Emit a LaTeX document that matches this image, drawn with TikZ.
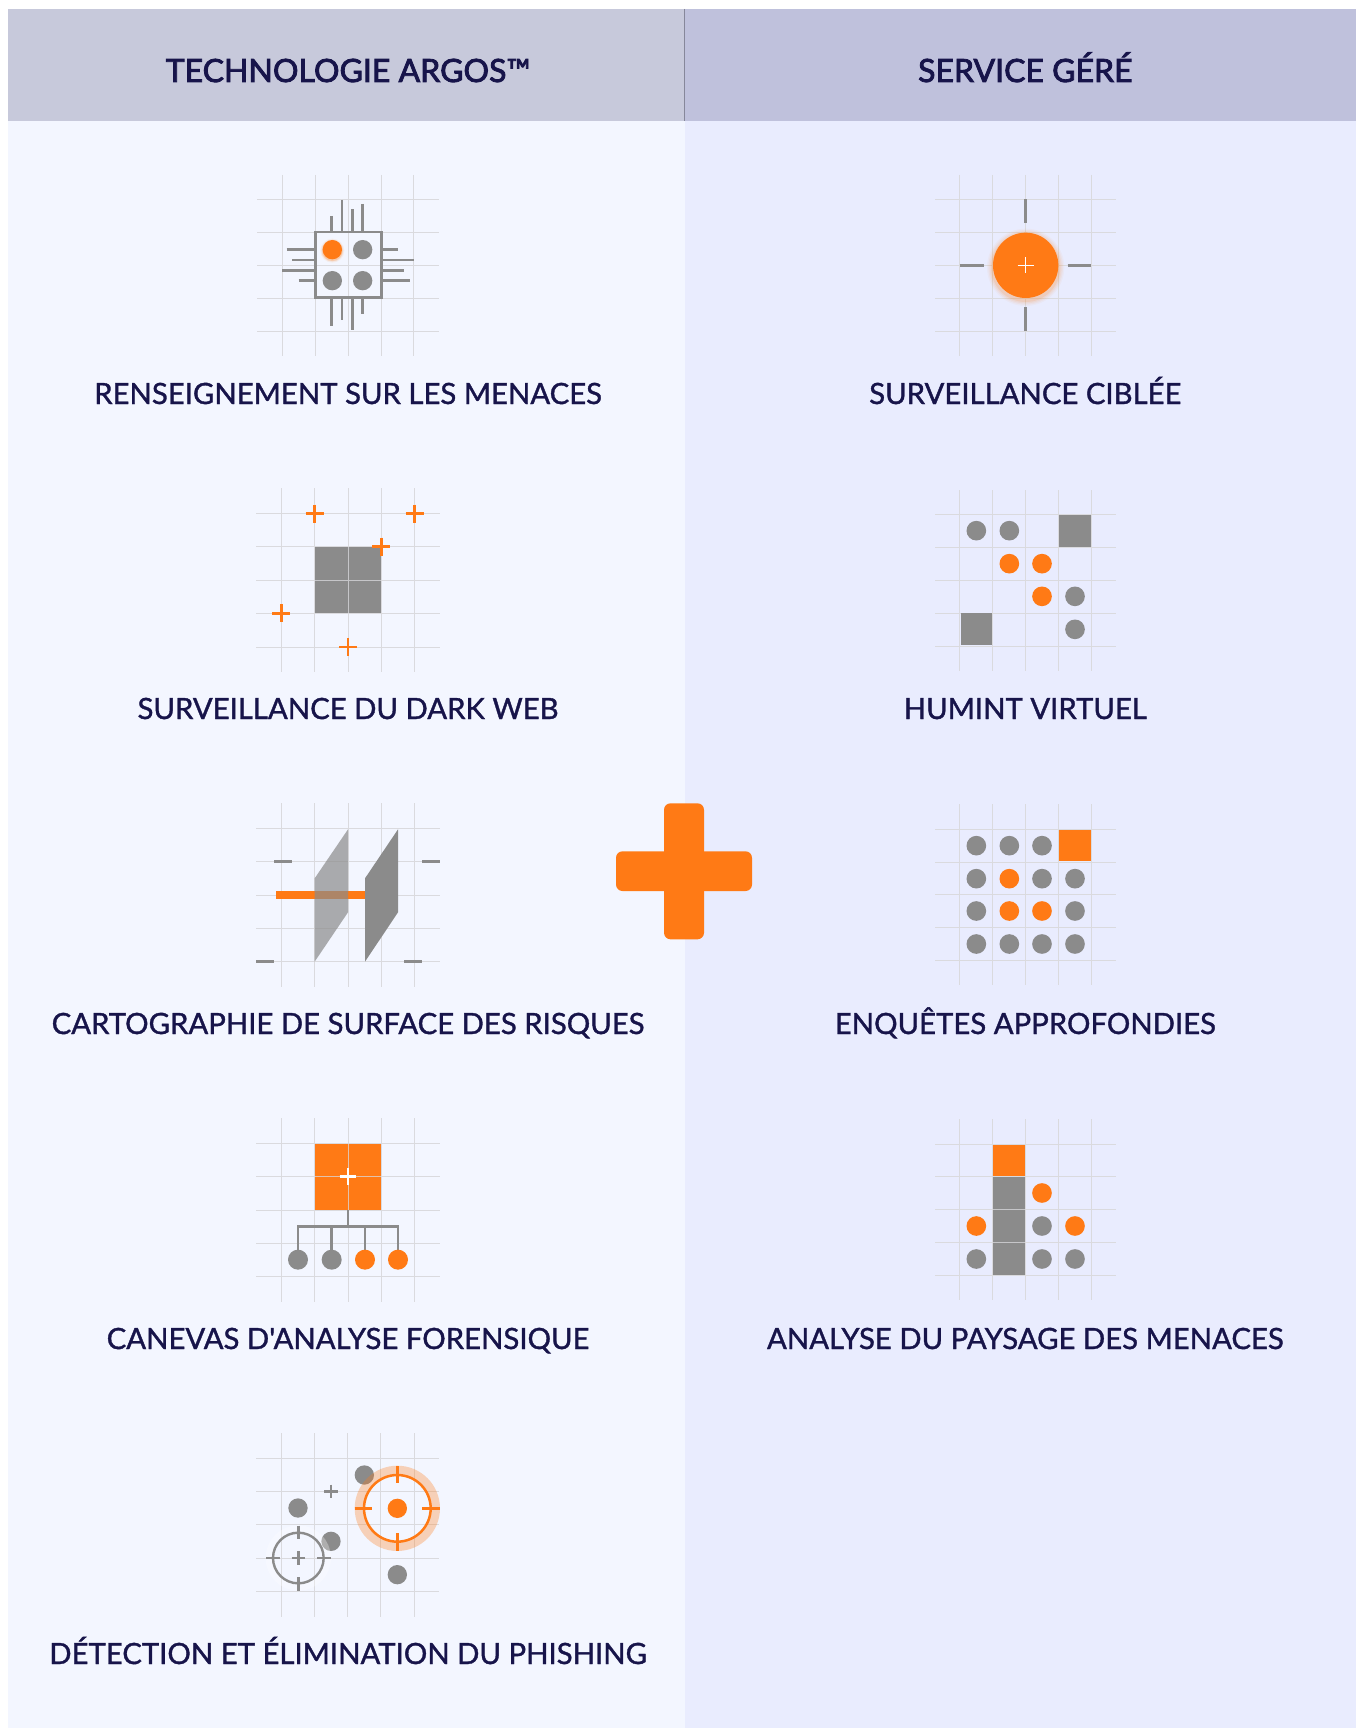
\documentclass[tikz,border=0pt]{standalone}
\usepackage{fontspec}
\setmainfont{Lato}
\newfontfamily\lblfont[FakeBold=1.2]{Lato}
\newfontfamily\hdrfont[FakeBold=2.6]{Lato}
\definecolor{bgL}{HTML}{F3F6FF}
\definecolor{bgR}{HTML}{E9ECFE}
\definecolor{hdL}{HTML}{C7C9DB}
\definecolor{hdR}{HTML}{BFC1DC}
\definecolor{ink}{HTML}{17144A}
\definecolor{org}{HTML}{FF7A15}
\definecolor{gry}{HTML}{8B8B8B}
\definecolor{grd}{HTML}{DADADE}
\tikzset{
 zm/.style 2 args={shift={(#1,#2)},x=0.33333pt,y=-0.33333pt},
 gridline/.style={draw=grd,line width=0.95pt},
 over/.style={draw=grd,opacity=.75,line width=.95pt},
 pin/.style={draw=gry,line width=2.6pt},
 opin/.style={draw=org,line width=2.6pt},
 gd/.style={fill=gry},
 od/.style={fill=org},
 lbl/.style={text=ink,font=\fontsize{29.3}{32}\selectfont\lblfont,anchor=base},
 hdr/.style={text=ink,font=\fontsize{32}{34}\selectfont\hdrfont,anchor=base},
}
\newcommand{\gridz}[6]{%
 \foreach \gx in {#1} {\draw[gridline] (\gx,#5) -- (\gx,#6);}
 \foreach \gy in {#2} {\draw[gridline] (#3,\gy) -- (#4,\gy);}
}
\newcommand{\ptset}[3]{\foreach \px/\py in {#2} {\fill[#1] (\px,\py) circle (#3);}}
\newcommand{\pluss}[5]{\draw[draw=#1,line width=#5] (#2-#4,#3) -- (#2+#4,#3) (#2,#3-#4) -- (#2,#3+#4);}
\begin{document}
\begin{tikzpicture}[x=1pt,y=-1pt]
\useasboundingbox (0,0) rectangle (1356,1728);
\fill[white] (0,0) rectangle (1356,1728);
% panels
\fill[bgL] (8,121) rectangle (684.5,1728);
\fill[bgR] (684.5,121) rectangle (1356,1728);
\fill[hdL] (8,9) rectangle (684.5,121);
\fill[hdR] (684.5,9) rectangle (1356,121);
\draw[draw=hdR!70!black,line width=.8pt] (684.8,9) -- (684.8,121);
\node[hdr] (h1) at (348,82) {TECHNOLOGIE ARGOS™};
\node[hdr] (h2) at (1025.3,82) {SERVICE GÉRÉ};

% --- chip
\begin{scope}[zm={240}{160}]
\gridz{127,226,324,423,521}{118,217,316,414,513}{52}{597}{45}{587}
\foreach \gx/\ga/\gb in {274/168/215,306/120/215,337/148/215,368/132/215,274/415/497,306/415/481,337/415/510,368/415/462}
 {\draw[pin] (\gx,\ga) -- (\gx,\gb);}
\foreach \gy/\ga/\gb in {269/140/226,300/156/226,331/127/226,362/176/226,269/424/473,300/424/522,331/424/492,362/424/510}
 {\draw[pin] (\ga,\gy) -- (\gb,\gy);}
\draw[pin] (226,216) rectangle (424,413);
\foreach \rr/\oo in {36/.08,33/.12,31/.2}{\fill[org,opacity=\oo] (277,272) circle (\rr);}
\fill[od] (277,269) circle (29);
\ptset{gd}{368/269,277/362,368/362}{29}
\end{scope}

% --- dark web
\begin{scope}[zm={240}{475}]
\gridz{124,224,324,424,524}{115,215,316,415,516}{48}{600}{40}{590}
\fill[gry] (226,216) rectangle (424,415);
\draw[over] (324,216) -- (324,415) (226,316) -- (424,316);
\foreach \px/\py in {224/116,524/116,424/215,124/415,324/516}{\pluss{org}{\px}{\py}{27}{2.8pt}}
\end{scope}

% --- surface
\begin{scope}[zm={240}{790}]
\gridz{124,224,324,424,524}{115,214,315,415,515}{48}{600}{40}{590}
\fill[org] (108,304) rectangle (375,328);
\fill[gry,opacity=.7] (224,265) -- (324,118) -- (324,367) -- (224,515) -- cycle;
\fill[gry] (375,265) -- (474,118) -- (474,367) -- (375,515) -- cycle;
\draw[pin] (102,214) -- (156,214) (547,214) -- (600,214) (48,514) -- (102,514) (493,514) -- (547,514);
\end{scope}

% --- forensic
\begin{scope}[zm={240}{1105}]
\gridz{124,224,324,424,523}{115,214,315,415,515}{48}{600}{40}{590}
\fill[org] (226,116) rectangle (424,314);
\draw[over] (324,116) -- (324,314) (226,214) -- (424,214);
\pluss{white}{324}{214}{25}{2.8pt}
\draw[pin] (324,315) -- (324,365) (174,464) -- (174,365) -- (474,365) -- (474,464) (275,365) -- (275,464) (375,365) -- (375,464);
\ptset{gd}{174/464,275/464}{30}
\ptset{od}{375/464,474/464}{30}
\end{scope}

% --- phishing
\begin{scope}[zm={240}{1420}]
\gridz{124,223,322,422,522}{115,214,314,414,514}{48}{597}{40}{590}
\ptset{gd}{373/165,174/264,273/364,472/464}{29}
\pluss{gry}{273}{214}{20}{2.6pt}
\draw[draw=white,opacity=.3,line width=7.3pt] (175,414) circle (87);
\draw[pin,line width=2.4pt] (175,414) circle (76);
\draw[pin] (175,317) -- (175,356) (175,472) -- (175,512) (78,414) -- (119,414) (232,414) -- (273,414);
\pluss{gry}{175}{414}{20}{2.6pt}
\draw[draw=org,opacity=.3,line width=9.3pt] (472,265) circle (114);
\draw[opin,line width=2.5pt] (472,265) circle (100);
\draw[opin] (472,138) -- (472,188) (472,340) -- (472,392) (344,265) -- (396,265) (547,265) -- (600,265);
\fill[od] (472,265) circle (29);
\end{scope}

% --- targeted
\begin{scope}[zm={915}{160}]
\gridz{134,233,331,430,529}{118,217,316,414,513}{60}{603}{45}{587}
\draw[pin] (331,118) -- (331,190) (331,441) -- (331,513) (134,316) -- (207,316) (458,316) -- (529,316);
\foreach \rr/\oo in {116/.04,112/.06,108/.08,104/.12}{\fill[org,opacity=\oo] (332,322) circle (\rr);}
\fill[od] (332,316) circle (98);
\pluss{white}{332}{316}{24}{1.3pt}
\end{scope}

% --- humint
\begin{scope}[zm={915}{475}]
\gridz{134,233,331,430,529}{118,217,316,414,513}{60}{603}{45}{587}
\fill[gry] (432,120) rectangle (528,215);
\fill[gry] (137,415) rectangle (232,510);
\ptset{gd}{184/167,283/167,480/364,480/463}{29.5}
\ptset{od}{283/266,381/266,381/364}{29.5}
\end{scope}

% --- deep investigations
\begin{scope}[zm={915}{790}]
\gridz{134,233,331,430,529}{118,216,314,412,511}{60}{603}{43}{585}
\fill[org] (432,120) rectangle (528,214);
\ptset{gd}{184/167,283/167,381/167,184/266,381/266,480/266,184/363,480/363,184/462,283/462,381/462,480/462}{29.5}
\ptset{od}{283/266,283/363,381/363}{29.5}
\end{scope}

% --- landscape
\begin{scope}[zm={915}{1105}]
\gridz{134,233,331,430,529}{117,215,313,412,511}{60}{603}{43}{585}
\fill[org] (235,119) rectangle (330,214);
\fill[gry] (235,217) rectangle (330,510);
\draw[over] (235,314) -- (330,314) (235,412) -- (330,412);
\ptset{gd}{381/363,184/462,381/462,480/462}{29.5}
\ptset{od}{381/264,184/363,480/363}{29.5}
\end{scope}

% plus: two rounded bars
\fill[org] (664,803.3) [rounded corners=6.5pt] rectangle (704,939.3);
\fill[org] (616,851.3) [rounded corners=6.5pt] rectangle (752,891);

% labels
\node[lbl] (a1) at (348,404) {RENSEIGNEMENT SUR LES MENACES};
\node[lbl] (a2) at (348,719) {SURVEILLANCE DU DARK WEB};
\node[lbl] (a3) at (348,1034) {CARTOGRAPHIE DE SURFACE DES RISQUES};
\node[lbl] (a4) at (348,1349) {CANEVAS D'ANALYSE FORENSIQUE};
\node[lbl] (a5) at (348,1664) {DÉTECTION ET ÉLIMINATION DU PHISHING};
\node[lbl] (b1) at (1025.3,404) {SURVEILLANCE CIBLÉE};
\node[lbl] (b2) at (1025.3,719) {HUMINT VIRTUEL};
\node[lbl] (b3) at (1025.3,1034) {ENQUÊTES APPROFONDIES};
\node[lbl] (b4) at (1025.3,1349) {ANALYSE DU PAYSAGE DES MENACES};
\end{tikzpicture}
\end{document}
